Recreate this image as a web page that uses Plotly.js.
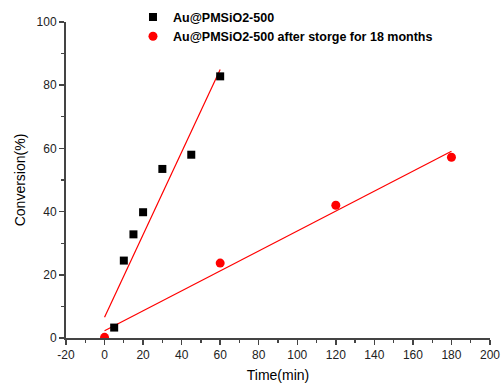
<!DOCTYPE html>
<html>
<head>
<meta charset="utf-8">
<script src="https://cdn.plot.ly/plotly-3.0.1.min.js"></script>
<style>html,body{margin:0;padding:0;background:#fff;}#chart{width:503px;height:385px;}</style>
</head>
<body>
<div id="chart"></div>
<script>
// Series 1: Au@PMSiO2-500
const timeA = [5, 10, 15, 20, 30, 45, 60];
const convA = [3.3, 24.5, 32.8, 39.8, 53.5, 58.0, 82.8];
// Series 2: after storage for 18 months
const timeB = [0, 60, 120, 180];
const convB = [0.2, 23.7, 42.0, 57.2];
// Linear fit lines
const fitAx = [0, 60];
const fitAy = [6.6, 85.0];
const fitBx = [0, 180];
const fitBy = [2.3, 59.1];
const nameA = 'Au@PMSiO2-500';
const nameB = 'Au@PMSiO2-500 after storge for 18 months';
const xTicks = [-20, 0, 20, 40, 60, 80, 100, 120, 140, 160, 180, 200];
const yTicks = [0, 20, 40, 60, 80, 100];

const traces = [
  {x: fitAx, y: fitAy, mode: 'lines', line: {color: '#ff0000', width: 1.2}, showlegend: false, hoverinfo: 'skip'},
  {x: fitBx, y: fitBy, mode: 'lines', line: {color: '#ff0000', width: 1.2}, showlegend: false, hoverinfo: 'skip'},
  {x: timeA, y: convA, mode: 'markers', name: nameA, marker: {symbol: 'square', size: 8, color: '#000000'}},
  {x: timeB, y: convB, mode: 'markers', name: nameB, marker: {symbol: 'circle', size: 9, color: '#ff0000'}}
];

const axisCommon = {
  showgrid: false, zeroline: false, showline: true, linecolor: '#444', linewidth: 2,
  ticks: 'outside', ticklen: 5, tickwidth: 1.5, tickcolor: '#444',
  tickfont: {family: 'Arial, Liberation Sans, sans-serif', size: 12, color: '#222'},
  minor: {ticks: 'outside', ticklen: 3, tickwidth: 1.2, tickcolor: '#444'}
};

const layout = {
  width: 503, height: 385,
  margin: {l: 66, r: 13, t: 22, b: 47, autoexpand: false},
  paper_bgcolor: '#fff', plot_bgcolor: '#fff',
  showlegend: true,
  legend: {x: 0.158, y: 1.062, xanchor: 'left', yanchor: 'top', bgcolor: 'rgba(0,0,0,0)',
    font: {family: 'Arial, Liberation Sans, sans-serif', size: 12.5, color: '#000', weight: 'bold'},
    tracegroupgap: 0, itemwidth: 30},
  xaxis: Object.assign({}, axisCommon, {
    range: [-20, 200], tickvals: xTicks, ticktext: xTicks.map(String),
    minor: Object.assign({}, axisCommon.minor, {dtick: 10, tick0: 0}),
    title: {text: 'Time(min)', font: {family: 'Arial, Liberation Sans, sans-serif', size: 14, color: '#000'}, standoff: 9}
  }),
  yaxis: Object.assign({}, axisCommon, {
    range: [0, 100], tickvals: yTicks, ticktext: yTicks.map(String),
    minor: Object.assign({}, axisCommon.minor, {dtick: 10, tick0: 0}),
    title: {text: 'Conversion(%)', font: {family: 'Arial, Liberation Sans, sans-serif', size: 14, color: '#000'}, standoff: 8}
  })
};

Plotly.newPlot('chart', traces, layout, {staticPlot: true, displayModeBar: false});
</script>
</body>
</html>
